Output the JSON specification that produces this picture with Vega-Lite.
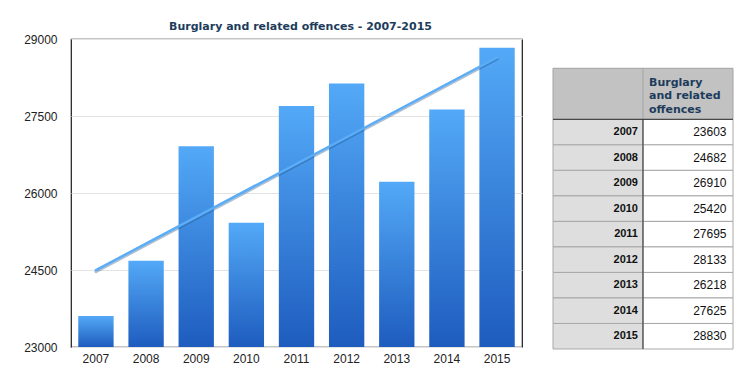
{
  "$schema": "https://vega.github.io/schema/vega-lite/v6.json",
  "padding": {"left": 23, "top": 20, "right": 0, "bottom": 0},
  "background": "white",
  "bounds": "flush",
  "spacing": 31,
  "config": {"view": {"stroke": null}, "font": "Liberation Sans"},
  "data": {
    "values": [
      {"year": 2007, "value": 23603},
      {"year": 2008, "value": 24682},
      {"year": 2009, "value": 26910},
      {"year": 2010, "value": 25420},
      {"year": 2011, "value": 27695},
      {"year": 2012, "value": 28133},
      {"year": 2013, "value": 26218},
      {"year": 2014, "value": 27625},
      {"year": 2015, "value": 28830}
    ]
  },
  "hconcat": [
    {
      "width": 451,
      "height": 308,
      "view": {"stroke": "#1a1a1a", "strokeWidth": 1.2},
      "title": {
        "text": "Burglary and related offences - 2007-2015",
        "font": "DejaVu Sans",
        "fontSize": 11,
        "fontWeight": "bold",
        "color": "#1d3c5c",
        "offset": -8,
        "baseline": "alphabetic",
        "dx": 4
      },
      "layer": [
        {
          "mark": {
            "type": "bar",
            "color": {
              "gradient": "linear",
              "x1": 0, "y1": 0, "x2": 0, "y2": 1,
              "stops": [
                {"offset": 0, "color": "#53a9f7"},
                {"offset": 1, "color": "#1e5cbe"}
              ]
            }
          },
          "encoding": {
            "x": {
              "field": "year",
              "type": "ordinal",
              "scale": {"paddingInner": 0.295, "paddingOuter": 0.145},
              "axis": {
                "title": null,
                "domain": false,
                "ticks": false,
                "tickSize": 0,
                "labelPadding": 6,
                "labelAngle": 0,
                "labelFontSize": 12,
                "labelColor": "#222222",
                "labelFont": "Liberation Sans"
              }
            },
            "y": {
              "field": "value",
              "type": "quantitative",
              "scale": {"domain": [23000, 29000], "zero": false, "nice": false},
              "axis": {
                "title": null,
                "values": [23000, 24500, 26000, 27500, 29000],
                "format": "d",
                "domain": false,
                "ticks": false,
                "tickSize": 0,
                "labelPadding": 14,
                "labelFontSize": 12,
                "labelColor": "#222222",
                "labelFont": "Liberation Sans",
                "gridColor": "#e3e3e3"
              }
            },
            "y2": {"datum": 23000}
          }
        },
        {
          "transform": [{"regression": "value", "on": "year"}],
          "mark": {"type": "line", "color": "#1c4a80", "opacity": 0.35, "strokeWidth": 3, "strokeCap": "round", "yOffset": 1.5},
          "encoding": {
            "x": {"field": "year", "type": "ordinal"},
            "y": {"field": "value", "type": "quantitative"}
          }
        },
        {
          "transform": [{"regression": "value", "on": "year"}],
          "mark": {"type": "line", "color": "#5aadf6", "strokeWidth": 2.5, "strokeCap": "round"},
          "encoding": {
            "x": {"field": "year", "type": "ordinal"},
            "y": {"field": "value", "type": "quantitative"}
          }
        }
      ]
    },
    {
      "width": 180,
      "height": 310,
      "layer": [
        {
          "data": {"values": [{}]},
          "mark": {"type": "rect", "fill": "#c2c2c2", "stroke": "#a3a3a3", "strokeWidth": 1},
          "encoding": {
            "x": {
              "datum": "label", "type": "ordinal", "bandPosition": 0,
              "scale": {"domain": ["label", "value"], "paddingInner": 0, "paddingOuter": 0},
              "axis": null
            },
            "x2": {"datum": "value", "bandPosition": 1},
            "y": {
              "datum": "h1", "type": "ordinal", "bandPosition": 0,
              "scale": {
                "domain": ["h1", "h2", 2007, 2008, 2009, 2010, 2011, 2012, 2013, 2014, 2015],
                "paddingInner": 0, "paddingOuter": 0.574, "align": 1
              },
              "axis": null
            },
            "y2": {"datum": "h2", "bandPosition": 1}
          }
        },
        {
          "data": {"values": [{}]},
          "mark": {"type": "rule", "color": "#a3a3a3", "strokeWidth": 1},
          "encoding": {
            "x": {"datum": "value", "type": "ordinal", "bandPosition": 0},
            "y": {"datum": "h1", "type": "ordinal", "bandPosition": 0},
            "y2": {"datum": "h2", "bandPosition": 1}
          }
        },
        {
          "mark": {"type": "rect", "fill": "#dedede", "stroke": "#a8a8a8", "strokeWidth": 1},
          "encoding": {
            "x": {"datum": "label", "type": "ordinal"},
            "y": {"field": "year", "type": "ordinal"}
          }
        },
        {
          "mark": {"type": "rect", "fill": "#ffffff", "stroke": "#a8a8a8", "strokeWidth": 1},
          "encoding": {
            "x": {"datum": "value", "type": "ordinal"},
            "y": {"field": "year", "type": "ordinal"}
          }
        },
        {
          "data": {"values": [{}]},
          "mark": {"type": "rule", "color": "#333333", "strokeWidth": 1},
          "encoding": {
            "x": {"datum": "value", "type": "ordinal", "bandPosition": 0},
            "y": {"datum": 2007, "type": "ordinal", "bandPosition": 0},
            "y2": {"datum": 2015, "bandPosition": 1}
          }
        },
        {
          "data": {"values": [{}]},
          "mark": {"type": "rule", "color": "#333333", "strokeWidth": 1},
          "encoding": {
            "y": {"datum": 2007, "type": "ordinal", "bandPosition": 0},
            "x": {"datum": "label", "type": "ordinal", "bandPosition": 0},
            "x2": {"datum": "value", "bandPosition": 1}
          }
        },
        {
          "mark": {"type": "text", "align": "right", "baseline": "middle", "dx": -5, "fontSize": 11, "fontWeight": "bold", "font": "Liberation Sans", "color": "#111111"},
          "encoding": {
            "x": {"datum": "label", "type": "ordinal", "bandPosition": 1},
            "y": {"field": "year", "type": "ordinal"},
            "text": {"field": "year", "type": "ordinal"}
          }
        },
        {
          "mark": {"type": "text", "align": "right", "baseline": "middle", "dx": -6.5, "fontSize": 12, "font": "Liberation Sans", "color": "#111111"},
          "encoding": {
            "x": {"datum": "value", "type": "ordinal", "bandPosition": 1},
            "y": {"field": "year", "type": "ordinal"},
            "text": {"field": "value", "type": "quantitative", "format": "d"}
          }
        },
        {
          "data": {"values": [{}]},
          "mark": {
            "type": "text",
            "text": ["Burglary", "and related", "offences"],
            "align": "left",
            "baseline": "middle",
            "dx": 6,
            "dy": 1.5,
            "lineHeight": 13.5,
            "font": "DejaVu Sans",
            "fontSize": 11,
            "fontWeight": "bold",
            "color": "#1d3c5c"
          },
          "encoding": {
            "x": {"datum": "value", "type": "ordinal", "bandPosition": 0},
            "y": {"datum": "h1", "type": "ordinal", "bandPosition": 0.5}
          }
        }
      ]
    }
  ]
}
